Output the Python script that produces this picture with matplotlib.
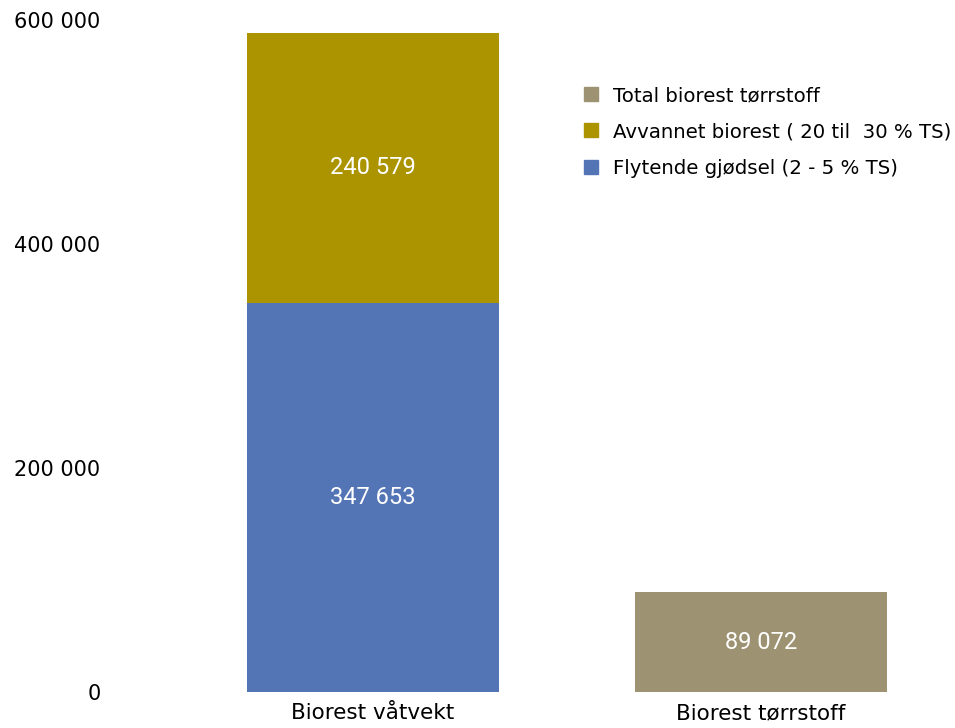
import matplotlib.pyplot as plt
from matplotlib.patches import Patch

categories = ["Biorest våtvekt", "Biorest tørrstoff"]
flytende = [347653, 0]
avvannet = [240579, 0]
total_ts = [0, 89072]
series_names = ["Flytende gjødsel (2 - 5 % TS)",
                "Avvannet biorest ( 20 til  30 % TS)",
                "Total biorest tørrstoff"]
colors = ["#5374b5", "#ab9400", "#9d9271"]
yticks = [0, 200000, 400000, 600000]


def fmt(v):
    return f"{v:,}".replace(",", " ")


fig = plt.figure(figsize=(9.55, 7.28), dpi=100)
ax = fig.add_axes([0.1257, 0.0495, 1 - 0.1257, 0.9725 - 0.0495])

x = list(range(len(categories)))
w = 0.65
b1 = ax.bar(x, flytende, w, color=colors[0])
b2 = ax.bar(x, avvannet, w, bottom=flytende, color=colors[1])
b3 = ax.bar(x, total_ts, w, color=colors[2])

# value labels inside each segment
for bars, vals, base in [(b1, flytende, [0, 0]), (b2, avvannet, flytende), (b3, total_ts, [0, 0])]:
    for rect, v, b in zip(bars, vals, base):
        if v > 0:
            ax.text(rect.get_x() + rect.get_width() / 2, b + v / 2, fmt(v),
                    ha="center", va="center", color="white",
                    fontsize=17, family="Roboto")

ax.set_xlim(-(373 - 120) / 388, (955 - 373) / 388)
ax.set_ylim(0, 600000)
ax.set_yticks(yticks)
ax.set_yticklabels([fmt(v) for v in yticks], fontsize=15)
ax.set_xticks(x)
ax.set_xticklabels(categories, fontsize=15.5)
ax.tick_params(axis="y", length=0, pad=14)
ax.tick_params(axis="x", length=0, pad=8)
for s in ax.spines.values():
    s.set_visible(False)

handles = [Patch(color=c) for c in colors][::-1]
ax.legend(handles, series_names[::-1], loc="upper left",
          bbox_to_anchor=(584 / 955, 1 - 86 / 728), bbox_transform=fig.transFigure,
          frameon=False, fontsize=14.2, handlelength=0.71, handleheight=0.71,
          handletextpad=0.76, labelspacing=0.88, borderpad=0, borderaxespad=0)

fig.savefig("out.png", dpi=100)
